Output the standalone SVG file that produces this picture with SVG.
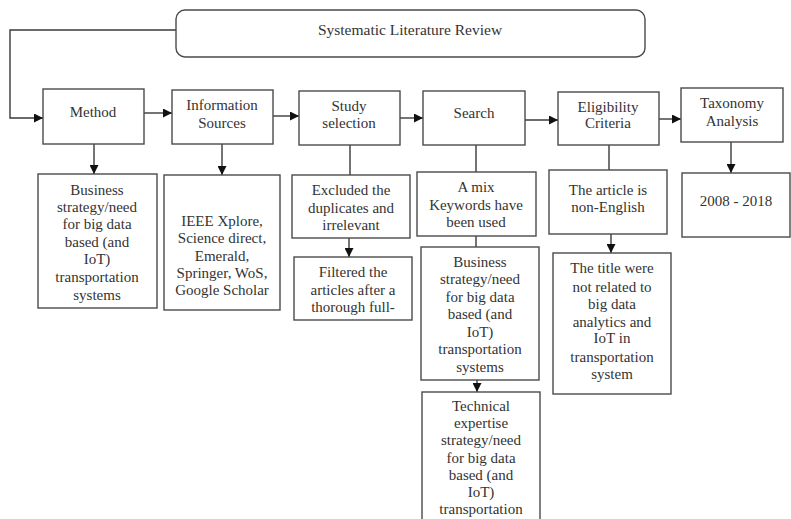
<svg xmlns="http://www.w3.org/2000/svg" width="791" height="519" viewBox="0 0 791 519">
<style>
.box{fill:#fff;stroke:#4a4a4a;stroke-width:1.4}
.t{font-family:"Liberation Serif",serif;font-size:15px;fill:#333;text-anchor:middle}
.c{fill:none;stroke:#3a3a3a;stroke-width:1.4}
</style>
<defs>
<marker id="ah" viewBox="0 0 10 10" refX="10" refY="5" markerWidth="9" markerHeight="9" markerUnits="userSpaceOnUse" orient="auto">
<path d="M0,0 L10,5 L0,10 z" fill="#111"/>
</marker>
</defs>
<rect width="791" height="519" fill="#fff"/>
<g id="connectors">
<path class="c" d="M176,30 H10 V118 H43" marker-end="url(#ah)"/>
<path class="c" d="M144,113 H172" marker-end="url(#ah)"/>
<path class="c" d="M273,116 H299" marker-end="url(#ah)"/>
<path class="c" d="M400,118 H423" marker-end="url(#ah)"/>
<path class="c" d="M525,120 H558" marker-end="url(#ah)"/>
<path class="c" d="M659,119 H681" marker-end="url(#ah)"/>
<path class="c" d="M94,144 V174" marker-end="url(#ah)"/>
<path class="c" d="M222,144 V175" marker-end="url(#ah)"/>
<path class="c" d="M350,145 V175"/>
<path class="c" d="M349,238 V257" marker-end="url(#ah)"/>
<path class="c" d="M476,145 V172"/>
<path class="c" d="M476,236 V247"/>
<path class="c" d="M477,380 V392" marker-end="url(#ah)"/>
<path class="c" d="M609,145 V170"/>
<path class="c" d="M611,234 V253" marker-end="url(#ah)"/>
<path class="c" d="M731,142 V173" marker-end="url(#ah)"/>
</g>
<g id="slr">
<rect class="box" x="176" y="10" width="469" height="47" rx="9"/>
<text class="t" x="410" y="35" style="font-size:15.5px">Systematic Literature Review</text>
</g>
<g id="method">
<rect class="box" x="43" y="89" width="101" height="55"/>
<text class="t" x="93" y="117">Method</text>
</g>
<g id="info">
<rect class="box" x="172" y="90" width="101" height="54"/>
<text class="t" x="222" y="110">Information</text>
<text class="t" x="222" y="128">Sources</text>
</g>
<g id="study">
<rect class="box" x="299" y="91" width="101" height="54"/>
<text class="t" x="349" y="111">Study</text>
<text class="t" x="349" y="128">selection</text>
</g>
<g id="search">
<rect class="box" x="423" y="91" width="102" height="54"/>
<text class="t" x="474" y="118">Search</text>
</g>
<g id="elig">
<rect class="box" x="558" y="92" width="101" height="53"/>
<text class="t" x="608" y="112">Eligibility</text>
<text class="t" x="608" y="128">Criteria</text>
</g>
<g id="tax">
<rect class="box" x="681" y="88" width="102" height="54"/>
<text class="t" x="732" y="108">Taxonomy</text>
<text class="t" x="732" y="126">Analysis</text>
</g>
<g id="business1">
<rect class="box" x="38" y="174" width="119" height="134"/>
<text class="t" x="97" y="195">Business</text>
<text class="t" x="97" y="212">strategy/need</text>
<text class="t" x="97" y="229">for big data</text>
<text class="t" x="97" y="247">based (and</text>
<text class="t" x="97" y="264">IoT)</text>
<text class="t" x="97" y="282">transportation</text>
<text class="t" x="97" y="300">systems</text>
</g>
<g id="sources">
<rect class="box" x="164" y="175" width="116" height="135"/>
<text class="t" x="222" y="226">IEEE Xplore,</text>
<text class="t" x="222" y="243">Science direct,</text>
<text class="t" x="222" y="261">Emerald,</text>
<text class="t" x="222" y="278">Springer, WoS,</text>
<text class="t" x="222" y="295">Google Scholar</text>
</g>
<g id="excluded">
<rect class="box" x="292" y="175" width="118" height="63"/>
<text class="t" x="351" y="195">Excluded the</text>
<text class="t" x="351" y="213">duplicates and</text>
<text class="t" x="351" y="230">irrelevant</text>
</g>
<g id="filtered">
<rect class="box" x="294" y="257" width="118" height="63"/>
<text class="t" x="353" y="277">Filtered the</text>
<text class="t" x="353" y="295">articles after a</text>
<text class="t" x="353" y="312">thorough  full-</text>
</g>
<g id="mix">
<rect class="box" x="417" y="172" width="119" height="64"/>
<text class="t" x="476" y="192">A mix</text>
<text class="t" x="476" y="210">Keywords have</text>
<text class="t" x="476" y="227">been used</text>
</g>
<g id="business2">
<rect class="box" x="421" y="247" width="118" height="133"/>
<text class="t" x="480" y="267">Business</text>
<text class="t" x="480" y="284">strategy/need</text>
<text class="t" x="480" y="302">for big data</text>
<text class="t" x="480" y="319">based (and</text>
<text class="t" x="480" y="337">IoT)</text>
<text class="t" x="480" y="354">transportation</text>
<text class="t" x="480" y="372">systems</text>
</g>
<g id="technical">
<rect class="box" x="422" y="392" width="118" height="140"/>
<text class="t" x="481" y="411">Technical</text>
<text class="t" x="481" y="428">expertise</text>
<text class="t" x="481" y="445">strategy/need</text>
<text class="t" x="481" y="463">for big data</text>
<text class="t" x="481" y="480">based (and</text>
<text class="t" x="481" y="497">IoT)</text>
<text class="t" x="481" y="514">transportation</text>
</g>
<g id="nonenglish">
<rect class="box" x="549" y="170" width="118" height="64"/>
<text class="t" x="608" y="195">The article is</text>
<text class="t" x="608" y="212">non-English</text>
</g>
<g id="titlebox">
<rect class="box" x="553" y="253" width="118" height="141"/>
<text class="t" x="612" y="273">The title were</text>
<text class="t" x="612" y="292">not related to</text>
<text class="t" x="612" y="309">big data</text>
<text class="t" x="612" y="327">analytics and</text>
<text class="t" x="612" y="343">IoT in</text>
<text class="t" x="612" y="362">transportation</text>
<text class="t" x="612" y="379">system</text>
</g>
<g id="years">
<rect class="box" x="682" y="173" width="108" height="64"/>
<text class="t" x="736" y="206">2008 - 2018</text>
</g>
</svg>
